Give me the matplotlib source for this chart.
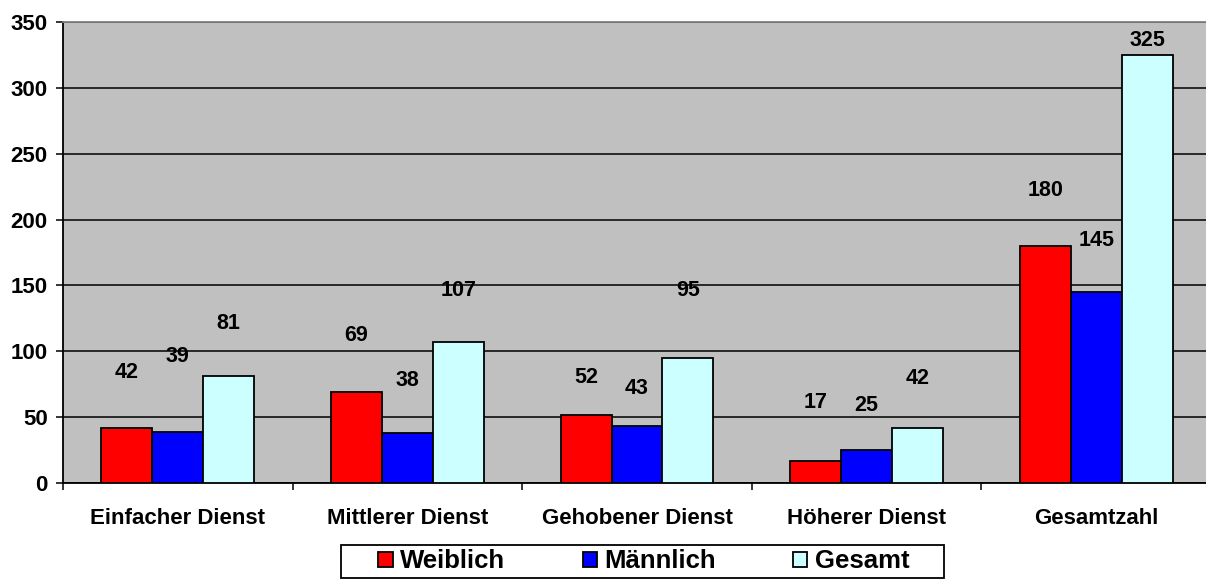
import matplotlib.pyplot as plt
import numpy as np
from matplotlib.patches import Rectangle

plt.rcParams['font.family'] = ['Liberation Sans', 'DejaVu Sans']
plt.rcParams['font.weight'] = 'bold'

kategorien = ['Einfacher Dienst', 'Mittlerer Dienst', 'Gehobener Dienst',
              'Höherer Dienst', 'Gesamtzahl']
weiblich = [42, 69, 52, 17, 180]
maennlich = [39, 38, 43, 25, 145]
gesamt = [81, 107, 95, 42, 325]

# Höhe der Beschriftungen (wie im Bild, frei schwebend)
lab_w = [84, 112, 80, 61, 222]
lab_m = [96, 78, 72, 59, 184]
lab_g = [121, 146, 146, 79, 336]

serien = ['Weiblich', 'Männlich', 'Gesamt']
farben = ['#FF0000', '#0000FF', '#CCFFFF']

fig = plt.figure(figsize=(12.06, 5.8), dpi=100)
W, H = 1206, 580
ax = fig.add_axes([63/W, (H-483)/H, (1211-63)/W, (483-22)/H])
ax.set_facecolor('#C0C0C0')

x = np.arange(len(kategorien))
bw = 0.222
daten = [weiblich, maennlich, gesamt]
labs = [lab_w, lab_m, lab_g]
for i in range(3):
    pos = x + (i-1)*bw
    ax.bar(pos, daten[i], bw, color=farben[i], edgecolor='black',
           linewidth=1.3, label=serien[i], zorder=3)
    for px, v, ly in zip(pos, daten[i], labs[i]):
        ax.text(px, ly, str(v), ha='center', va='center', fontsize=15.5,
                fontweight='bold', zorder=4)

ax.set_xlim(-0.5, len(kategorien)-0.5)
ax.set_ylim(0, 350)
ax.set_yticks(np.arange(0, 351, 50))
ax.yaxis.grid(True, color='black', linewidth=1.1, zorder=1)
ax.set_axisbelow(True)

ax.set_xticks(x)
ax.set_xticklabels(kategorien, fontsize=16, fontweight='bold')
ax.set_xticks(np.arange(-0.5, len(kategorien), 1), minor=True)
ax.tick_params(axis='x', which='major', length=0, pad=18)
ax.tick_params(axis='x', which='minor', length=5, width=1.1, direction='out')
ax.tick_params(axis='y', length=5, width=1.1, pad=6, labelsize=16)
for t in ax.get_yticklabels():
    t.set_fontweight('bold')

ax.spines['top'].set_color('#808080')
ax.spines['top'].set_linewidth(1.3)
ax.spines['left'].set_linewidth(1.3)
ax.spines['bottom'].set_linewidth(1.3)
ax.spines['right'].set_visible(False)

# Legendenrahmen
fig.patches.append(Rectangle((341/W, 2/H), (944-341)/W, (578-545)/H,
                             transform=fig.transFigure, facecolor='white',
                             edgecolor='black', linewidth=1.3, zorder=1))
leg = fig.legend(loc='center', bbox_to_anchor=(644/W, 18.5/H),
                 ncol=3, frameon=False, columnspacing=3.0,
                 handlelength=0.55, handleheight=0.55, handletextpad=0.3,
                 borderpad=0, prop={'weight': 'bold', 'size': 18.5})
leg.set_zorder(2)

fig.savefig('out.png', dpi=100)
